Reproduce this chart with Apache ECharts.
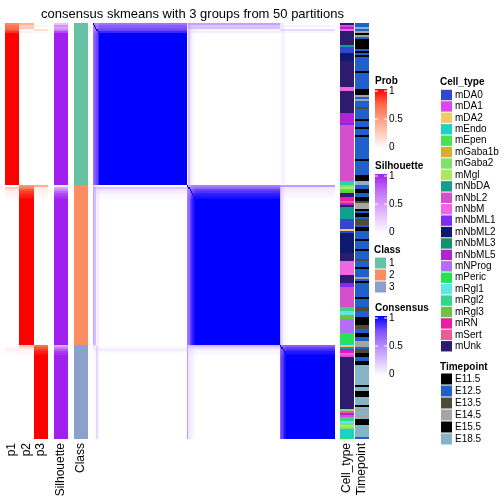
<!DOCTYPE html>
<html><head><meta charset="utf-8">
<script src="https://cdn.jsdelivr.net/npm/echarts@6/dist/echarts.min.js"></script>
<style>html,body{margin:0;padding:0;background:#fff}#c{width:504px;height:504px}</style>
</head><body><div id="c"></div>
<script>
const chartTitle = 'consensus skmeans with 3 groups from 50 partitions';
const probLabels = ['p1', 'p2', 'p3'];
// class membership of the ordered samples, as runs [class, count]
const classRuns = [[1, 81], [2, 80], [3, 47]];
const classColors = ['#66C2A5', '#FC8D62', '#8DA0CB'];
// membership probabilities of the samples that are not fully certain: [row, p1, p2, p3]
const probExceptions = [
  [0, 0.60, 0.40, 0.00], [1, 0.70, 0.25, 0.05], [2, 0.72, 0.28, 0.00], [3, 0.78, 0.05, 0.17], [4, 0.88, 0.08, 0.04],
  [81, 0.02, 0.55, 0.43], [82, 0.25, 0.65, 0.10], [83, 0.12, 0.80, 0.08], [84, 0.08, 0.85, 0.07], [85, 0.05, 0.90, 0.05], [86, 0.03, 0.93, 0.04], [87, 0.02, 0.96, 0.02],
  [161, 0.00, 0.30, 0.70], [162, 0.05, 0.15, 0.80], [163, 0.08, 0.05, 0.87], [164, 0.03, 0.04, 0.93], [165, 0.01, 0.03, 0.96]
];
// silhouette of the samples below 1: [row, value]
const silExceptions = [
  [0, 0.30], [1, 0.55], [2, 0.45], [3, 0.60], [4, 0.85],
  [81, 0.10], [82, 0.45], [83, 0.60], [84, 0.75], [85, 0.85], [86, 0.90], [87, 0.95],
  [161, 0.45], [162, 0.65], [163, 0.80], [164, 0.90], [165, 0.95]
];
const cellTypes = ['mDA0','mDA1','mDA2','mEndo','mEpen','mGaba1b','mGaba2','mMgl','mNbDA','mNbL2','mNbM','mNbML1','mNbML2','mNbML3','mNbML5','mNProg','mPeric','mRgl1','mRgl2','mRgl3','mRN','mSert','mUnk'];
const cellTypeColors = ['#3346CF','#DD45EE','#F6C865','#1BD3C4','#4CE24F','#D8AE2C','#80E26C','#A6EC5C','#119E8C','#D54FCC','#EE66E2','#7B2DF5','#0C1A72','#13906C','#B223D3','#B26FF5','#25E257','#5FE6E6','#35D68A','#69C446','#EE1BA9','#EE5A96','#2D1B6E'];
const cellTypeRuns = [
  ['mUnk',1],['mDA1',1],['mNbML5',1],['mNbM',1],['mUnk',7],['mNbDA',1],['mDA0',3],['mNbML2',4],['mUnk',13],['mNbM',2],
  ['mUnk',11],['mNbML5',5],['mNbML1',1],['mNbL2',28],['mEndo',1],['mRgl2',1],['mGaba2',1],['mMgl',1],['mEpen',1],['mRgl3',1],
  ['mUnk',2],['mRN',2],['mSert',1],['mNbML5',1],['mUnk',1],['mNbDA',6],['mDA0',5],['mDA2',1],['mDA0',1],['mNbML2',10],
  ['mUnk',4],['mNbM',7],['mUnk',4],['mNbML1',2],['mNbL2',10],['mRgl2',2],['mRgl1',2],['mRgl3',2],['mNProg',7],['mPeric',5],
  ['mEndo',1],['mDA2',1],['mNbDA',1],['mNbML5',1],['mRN',1],['mNbM',1],['mDA1',1],['mUnk',26],['mGaba2',1],['mSert',1],
  ['mNbML5',1],['mDA1',1],['mRgl2',2],['mRgl1',1],['mGaba2',1],['mMgl',1],['mGaba2',1],['mEndo',4],['mPeric',1]
];
const timepoints = ['E11.5','E12.5','E13.5','E14.5','E15.5','E18.5'];
const timepointColors = ['#000000','#1F60CD','#4F4B35','#A5A5A5','#040404','#86B4C4'];
const timepointRuns = [
  ['E12.5',2],['E18.5',1],['E12.5',1],['E14.5',1],['E11.5',1],['E14.5',1],['E12.5',1],['E11.5',5],['E12.5',1],['E11.5',1],
  ['E12.5',1],['E11.5',1],['E12.5',7],['E11.5',1],['E12.5',8],['E15.5',3],['E14.5',1],['E12.5',1],['E14.5',1],['E12.5',3],
  ['E13.5',1],['E12.5',5],['E11.5',1],['E12.5',3],['E11.5',1],['E12.5',3],['E11.5',1],['E12.5',11],['E11.5',1],['E12.5',7],
  ['E15.5',3],['E18.5',2],['E12.5',2],['E11.5',2],['E12.5',2],['E11.5',2],['E13.5',1],['E14.5',3],['E11.5',1],['E12.5',1],
  ['E11.5',2],['E12.5',1],['E13.5',3],['E12.5',1],['E11.5',2],['E12.5',4],['E11.5',1],['E12.5',4],['E11.5',1],['E12.5',4],
  ['E13.5',1],['E12.5',3],['E11.5',1],['E12.5',4],['E14.5',1],['E12.5',1],['E11.5',1],['E12.5',7],['E11.5',1],['E12.5',4],
  ['E13.5',2],['E12.5',3],['E11.5',4],['E13.5',2],['E12.5',2],['E11.5',2],['E12.5',2],['E14.5',3],['E12.5',1],['E13.5',2],
  ['E11.5',2],['E12.5',2],['E11.5',2],['E18.5',10],['E11.5',1],['E18.5',2],['E11.5',3],['E18.5',4],['E11.5',1],['E18.5',1],
  ['E14.5',1],['E18.5',2],['E14.5',1],['E18.5',1],['E11.5',3],['E18.5',6],['E12.5',1]
];
const legendTicks = [1, 0.5, 0];
const legendTickText = ['1', '0.5', '0'];
// white -> colour ramps (interpolated in Lab like the original)
const probRamp = ['#FFFFFF','#FFCFBF','#FF9E81','#FF6846','#FF0000'];
const silRamp = ['#FFFFFF','#EDCDFD','#D79BFA','#BE66F5','#A020F0'];
const consRamp = ['#FFFFFF','#DCC5FF','#B38BFF','#7E51FF','#0000FF'];

function expand(runs) { const out = []; runs.forEach(r => { for (let k = 0; k < r[1]; k++) out.push(r[0]); }); return out; }
const classOf = expand(classRuns);
const N = classOf.length;
const cellOf = expand(cellTypeRuns);
const tpOf = expand(timepointRuns);
const P = classOf.map(c => [c === 1 ? 1 : 0, c === 2 ? 1 : 0, c === 3 ? 1 : 0]);
probExceptions.forEach(e => { P[e[0]] = [e[1], e[2], e[3]]; });
const sil = classOf.map(() => 1);
silExceptions.forEach(e => { sil[e[0]] = e[1]; });
const rows = classOf.map((_, i) => i);

const probData = [], silData = [], classData = [], consData = [], cellData = [], tpData = [];
for (let i = 0; i < N; i++) {
  for (let k = 0; k < 3; k++) probData.push([k, i, P[i][k]]);
  silData.push([0, i, sil[i]]);
  classData.push([0, i, classOf[i]]);
  cellData.push([0, i, cellTypes.indexOf(cellOf[i])]);
  tpData.push([0, i, timepoints.indexOf(tpOf[i])]);
  for (let j = 0; j < N; j++) {
    const v = i === j ? 1 : P[i][0] * P[j][0] + P[i][1] * P[j][1] + P[i][2] * P[j][2];
    consData.push([j, i, v]);
  }
}

const FONT = '"Liberation Sans", Arial, sans-serif';
const TOP = 23, H = 416;
const grids = [
  { left: 5, width: 43 }, { left: 54, width: 14 }, { left: 74, width: 14 },
  { left: 93, width: 242 }, { left: 340, width: 14 }, { left: 355, width: 14 }
].map(g => Object.assign({ top: TOP, height: H, containLabel: false }, g));
const xNames = [probLabels, ['Silhouette'], ['Class'], rows, ['Cell_type'], ['Timepoint']];
const xAxis = xNames.map((d, g) => ({
  type: 'category', gridIndex: g, data: d, position: 'bottom',
  show: g !== 3,
  axisLine: { show: false }, axisTick: { show: false }, splitLine: { show: false },
  axisLabel: { rotate: 90, margin: 4, interval: 0, fontSize: 12, color: '#000', fontFamily: FONT }
}));
const yAxis = grids.map((_, g) => ({ type: 'category', gridIndex: g, data: rows, inverse: true, show: false }));
const seriesData = [probData, silData, classData, consData, cellData, tpData];

// cells snapped to whole pixels so that neighbouring cells meet without seams
function snappedCell(params, api) {
  const c = api.coord([api.value(0), api.value(1)]);
  const s = api.size([1, 1]);
  const x0 = Math.round(c[0] - s[0] / 2), x1 = Math.round(c[0] + s[0] / 2);
  const y0 = Math.round(c[1] - s[1] / 2), y1 = Math.round(c[1] + s[1] / 2);
  return { type: 'rect', shape: { x: x0, y: y0, width: x1 - x0, height: y1 - y0 }, style: { fill: api.visual('color') } };
}
const series = seriesData.map((d, g) => ({
  type: 'custom', xAxisIndex: g, yAxisIndex: g, data: d, renderItem: snappedCell,
  encode: { x: 0, y: 1 }, progressive: 0, animation: false, silent: true
}));
const ramp = (r, s) => ({ type: 'continuous', show: false, seriesIndex: s, dimension: 2, min: 0, max: 1, inRange: { color: r } });
const pieces = (cols, s, base) => ({ type: 'piecewise', show: false, seriesIndex: s, dimension: 2,
  pieces: cols.map((c, i) => ({ value: i + base, color: c })) });
const visualMap = [ramp(probRamp, 0), ramp(silRamp, 1), pieces(classColors, 2, 1), ramp(consRamp, 3), pieces(cellTypeColors, 4, 0), pieces(timepointColors, 5, 0)];

// legends
const G = [];
function text(x, y, s, bold) {
  G.push({ type: 'text', x: x, y: y, silent: true, style: { text: s, fill: '#000', font: (bold ? 'bold ' : '') + '10px ' + FONT, align: 'left', verticalAlign: 'middle' } });
}
function bar(title, top, r) {
  const x = 375, w = 12, h = 60;
  text(375, top - 8, title, true);
  G.push({ type: 'rect', shape: { x: x, y: top, width: w, height: h }, silent: true,
    style: { fill: new echarts.graphic.LinearGradient(0, 0, 0, 1, r.slice().reverse().map((c, i) => ({ offset: i / (r.length - 1), color: c }))) } });
  legendTicks.forEach((v, i) => {
    const y = top + 2 + (1 - v) * 56;
    G.push({ type: 'line', silent: true, shape: { x1: x, y1: y, x2: x + 3, y2: y }, style: { stroke: '#fff', lineWidth: 1 } });
    G.push({ type: 'line', silent: true, shape: { x1: x + w - 3, y1: y, x2: x + w, y2: y }, style: { stroke: '#fff', lineWidth: 1 } });
    text(x + w + 2, y, legendTickText[i], false);
  });
}
function discrete(title, x, titleY, firstY, step, labels, cols) {
  text(x, titleY, title, true);
  labels.forEach((l, i) => {
    const y = firstY + i * step;
    G.push({ type: 'rect', silent: true, shape: { x: x + 1, y: y - step / 2 + 0.5, width: 11, height: step - 1 }, style: { fill: cols[i] } });
    text(x + 15, y, l, false);
  });
}
bar('Prob', 89, probRamp);
bar('Silhouette', 174, silRamp);
discrete('Class', 374, 250, 263, 12, ['1', '2', '3'], classColors);
bar('Consensus', 316, consRamp);
discrete('Cell_type', 440, 82, 95, 11.42, cellTypes, cellTypeColors);
discrete('Timepoint', 440, 367, 379, 12, timepoints, timepointColors);

const chart = echarts.init(document.getElementById('c'), null, { renderer: 'canvas' });
chart.setOption({
  animation: false,
  backgroundColor: '#fff',
  title: { text: chartTitle, left: 187.5, top: 3, textAlign: 'center', textStyle: { fontSize: 13, fontWeight: 'normal', color: '#000', fontFamily: FONT } },
  grid: grids, xAxis: xAxis, yAxis: yAxis, visualMap: visualMap, series: series,
  graphic: { elements: G }
});
</script>
</body></html>
